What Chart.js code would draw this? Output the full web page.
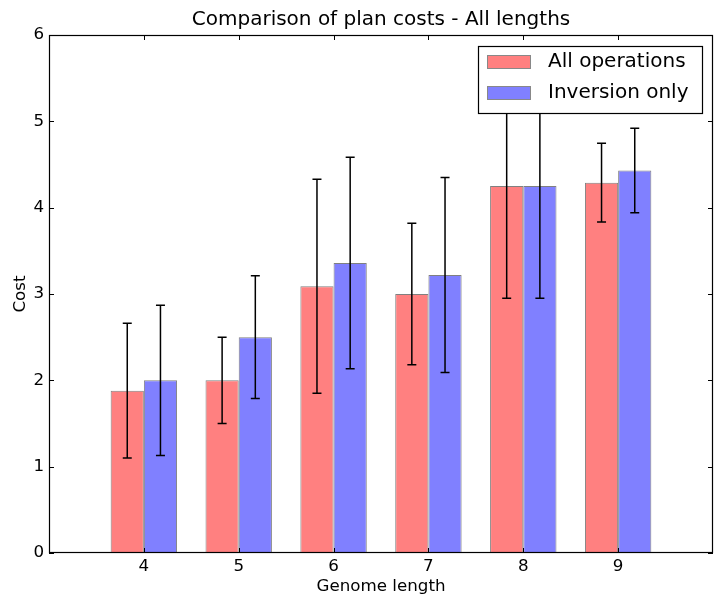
<!DOCTYPE html>
<html>
<head>
<meta charset="utf-8">
<script src="https://cdn.jsdelivr.net/npm/chart.js@4/dist/chart.umd.min.js"></script>
<style>
  body { margin: 0; background: #fff; }
  canvas { display: block; }
</style>
</head>
<body>
<canvas id="chart" width="719" height="598"></canvas>
<script>
const lengths = [4, 5, 6, 7, 8, 9]
const allOps = [1.88, 2.0, 3.09, 3.0, 4.25, 4.29]
const allOpsErr = [0.78, 0.5, 1.24, 0.82, 1.3, 0.455]
const invOnly = [2.0, 2.5, 3.36, 3.22, 4.25, 4.43]
const invOnlyErr = [0.87, 0.71, 1.225, 1.13, 1.3, 0.49]
const yTicks = [0, 1, 2, 3, 4, 5, 6]

const FONT = 'DejaVu Sans'

// error bars, drawn from the bar elements and the y scale
const errorBars = {
  id: 'errorBars',
  afterDatasetsDraw(chart) {
    const ctx = chart.ctx
    const y = chart.scales.y
    ctx.save()
    ctx.strokeStyle = '#000'
    ctx.lineWidth = 1.5
    chart.data.datasets.forEach((ds, di) => {
      const meta = chart.getDatasetMeta(di)
      meta.data.forEach((bar, i) => {
        const v = ds.data[i], e = ds.errors[i]
        const lo = y.getPixelForValue(v - e)
        const hi = y.getPixelForValue(v + e)
        ctx.beginPath()
        ctx.moveTo(bar.x, lo); ctx.lineTo(bar.x, hi)
        ctx.moveTo(bar.x - 4.5, lo); ctx.lineTo(bar.x + 4.5, lo)
        ctx.moveTo(bar.x - 4.5, hi); ctx.lineTo(bar.x + 4.5, hi)
        ctx.stroke()
      })
    })
    ctx.restore()
  }
}

// matplotlib-like frame with inward ticks, plus boxed legend
const frame = {
  id: 'frame',
  afterDraw(chart) {
    const ctx = chart.ctx
    const a = chart.chartArea
    const xs = chart.scales.x, ys = chart.scales.y
    ctx.save()
    ctx.strokeStyle = '#000'
    ctx.lineWidth = 1
    ctx.beginPath()
    yTicks.forEach(t => {
      const py = Math.round(ys.getPixelForValue(t)) + 0.5
      ctx.moveTo(a.left, py); ctx.lineTo(a.left + 5, py)
      ctx.moveTo(a.right, py); ctx.lineTo(a.right - 5, py)
    })
    lengths.forEach(t => {
      const px = Math.round(xs.getPixelForValue(t)) + 0.5
      ctx.moveTo(px, a.bottom); ctx.lineTo(px, a.bottom - 5)
      ctx.moveTo(px, a.top); ctx.lineTo(px, a.top + 5)
    })
    ctx.stroke()
    ctx.lineWidth = 1.2
    ctx.strokeRect(Math.round(a.left) + 0.5, Math.round(a.top) + 0.5,
      Math.round(a.right - a.left) - 1, Math.round(a.bottom - a.top) - 1)

    // legend box
    const lx = 478.5, ly = 46.5, lw = 224, lh = 67
    ctx.fillStyle = '#fff'
    ctx.fillRect(lx, ly, lw, lh)
    ctx.strokeRect(lx, ly, lw, lh)
    ctx.font = '20px "' + FONT + '"'
    ctx.textBaseline = 'middle'
    chart.data.datasets.forEach((ds, i) => {
      const ry = 55 + i * 31
      ctx.fillStyle = ds.backgroundColor
      ctx.fillRect(487, ry, 44, 14)
      ctx.strokeStyle = '#888'
      ctx.lineWidth = 1
      ctx.strokeRect(487.5, ry + 0.5, 43, 13)
      ctx.fillStyle = '#000'
      ctx.fillText(ds.label, 548, ry + 7)
    })
    ctx.restore()
  }
}

new Chart(document.getElementById('chart'), {
  type: 'bar',
  data: {
    labels: lengths,
    datasets: [
      {
        label: 'All operations',
        data: allOps,
        errors: allOpsErr,
        backgroundColor: '#ff8080',
        borderColor: '#808080',
        borderWidth: 1,
        categoryPercentage: 0.7,
        barPercentage: 1.0
      },
      {
        label: 'Inversion only',
        data: invOnly,
        errors: invOnlyErr,
        backgroundColor: '#8080ff',
        borderColor: '#808080',
        borderWidth: 1,
        categoryPercentage: 0.7,
        barPercentage: 1.0
      }
    ]
  },
  options: {
    responsive: false,
    animation: false,
    layout: { padding: { left: 0, right: 6, top: 0, bottom: 0 } },
    plugins: {
      legend: { display: false },
      tooltip: { enabled: false },
      title: {
        display: true,
        text: 'Comparison of plan costs - All lengths',
        fullSize: false,
        color: '#000',
        font: { family: FONT, size: 20, weight: 'normal' },
        padding: { top: 8, bottom: 3 }
      }
    },
    scales: {
      x: {
        type: 'linear',
        offset: false,
        min: 3,
        max: 10,
        grid: { display: false, drawTicks: false },
        border: { display: false },
        ticks: {
          stepSize: 1,
          padding: 4,
          color: '#000',
          font: { family: FONT, size: 16.7 },
          callback: v => (v >= 4 && v <= 9) ? v : ''
        },
        title: {
          display: true,
          text: 'Genome length',
          color: '#000',
          font: { family: FONT, size: 16.7 },
          padding: { top: 0, bottom: 1 }
        },
        afterFit: s => { s.height = 45 }
      },
      y: {
        min: 0,
        max: 6,
        grid: { display: false, drawTicks: false },
        border: { display: false },
        ticks: {
          stepSize: 1,
          padding: 5,
          color: '#000',
          font: { family: FONT, size: 16.7 }
        },
        title: {
          display: true,
          text: 'Cost',
          color: '#000',
          font: { family: FONT, size: 16.7 },
          padding: { top: 10.5, bottom: 0 }
        },
        afterFit: s => { s.width = 49 }
      }
    }
  },
  plugins: [errorBars, frame]
})
</script>
</body>
</html>
